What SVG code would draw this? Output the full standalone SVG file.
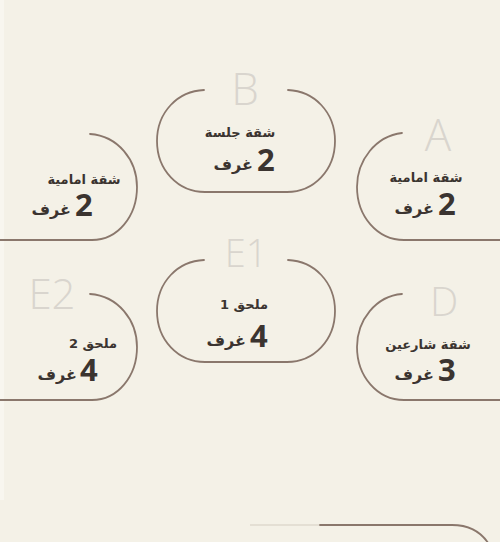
<svg xmlns="http://www.w3.org/2000/svg" width="500" height="542" viewBox="0 0 500 542">
<style>
.bg{fill:#f4f1e7}
.frame{fill:none;stroke:#8a776c;stroke-width:1.8;stroke-linecap:round}
.letter{font-family:"Open Sans","DejaVu Sans",sans-serif;font-weight:300;fill:#d9d5ce}
.lbl{font-family:"DejaVu Sans",sans-serif;font-weight:bold;font-size:13px;fill:#3b3430;text-anchor:middle}
.unit{font-family:"DejaVu Sans",sans-serif;font-weight:bold;font-size:16px;fill:#3b3430;text-anchor:end}
.num{font-family:"Noto Sans","DejaVu Sans",sans-serif;font-weight:bold;font-size:31px;fill:#3b3430;text-anchor:start}
</style>
<rect class="bg" x="0" y="0" width="500" height="542"/>
<rect x="0" y="0" width="4" height="500" fill="#f8f6ef"/>
<g id="connectors"/>
<g id="node-left-top">
<path class="frame" d="M 90,134 C 118,136 137,160 137,187 C 137,216 118,240 92,240 L -5,240"/>
<text class="lbl" x="84" y="184">شقة امامية</text>
<text class="num" x="75" y="216">2</text>
<text class="unit" x="71" y="215">غرف</text>
</g>
<g id="node-B">
<text class="letter" x="245" y="105" font-size="44" text-anchor="middle">B</text>
<path class="frame" d="M 204,90 C 178,91 157,112 157,141 C 157,170 178,192 205,192 L 287,192 C 314,192 335,170 335,141 C 335,112 314,91 288,90"/>
<text class="lbl" x="240" y="137">شقة جلسة</text>
<text class="num" x="257" y="171">2</text>
<text class="unit" x="253" y="170">غرف</text>
</g>
<g id="node-A">
<text class="letter" x="438" y="151" font-size="44" text-anchor="middle">A</text>
<path class="frame" d="M 402,133 C 376,136 357,160 357,187 C 357,216 377,240 404,240 L 505,240"/>
<text class="lbl" x="426" y="182">شقة امامية</text>
<text class="num" x="438" y="215">2</text>
<text class="unit" x="434" y="214">غرف</text>
</g>
<g id="node-E1">
<text class="letter" x="246" y="267" font-size="38" text-anchor="middle">E1</text>
<path class="frame" d="M 204,260 C 178,261 157,282 157,311 C 157,340 178,362 205,362 L 287,362 C 314,362 335,340 335,311 C 335,282 314,261 288,260"/>
<text class="lbl" x="244" y="309">ملحق 1</text>
<text class="num" x="250" y="347">4</text>
<text class="unit" x="246" y="346">غرف</text>
</g>
<g id="node-E2">
<text class="letter" x="52" y="309" font-size="42" text-anchor="middle">E2</text>
<path class="frame" d="M 90,294 C 118,296 137,320 137,347 C 137,376 118,400 92,400 L -5,400"/>
<text class="lbl" x="93" y="348">ملحق 2</text>
<text class="num" x="80" y="381">4</text>
<text class="unit" x="77" y="380">غرف</text>
</g>
<g id="node-D">
<text class="letter" x="444" y="316" font-size="40" text-anchor="middle">D</text>
<path class="frame" d="M 402,294 C 376,296 357,320 357,347 C 357,376 377,400 404,400 L 505,400"/>
<text class="lbl" x="428" y="349">شقة شارعين</text>
<text class="num" x="438" y="381">3</text>
<text class="unit" x="434" y="380">غرف</text>
</g>
<g id="node-bottom">
<path d="M 250,525 L 320,525" fill="none" stroke="#8a776c" stroke-width="1.5" opacity="0.2"/>
<path class="frame" d="M 320,525 L 452,525 C 470,525 482,532 490,546"/>
</g>
</svg>
